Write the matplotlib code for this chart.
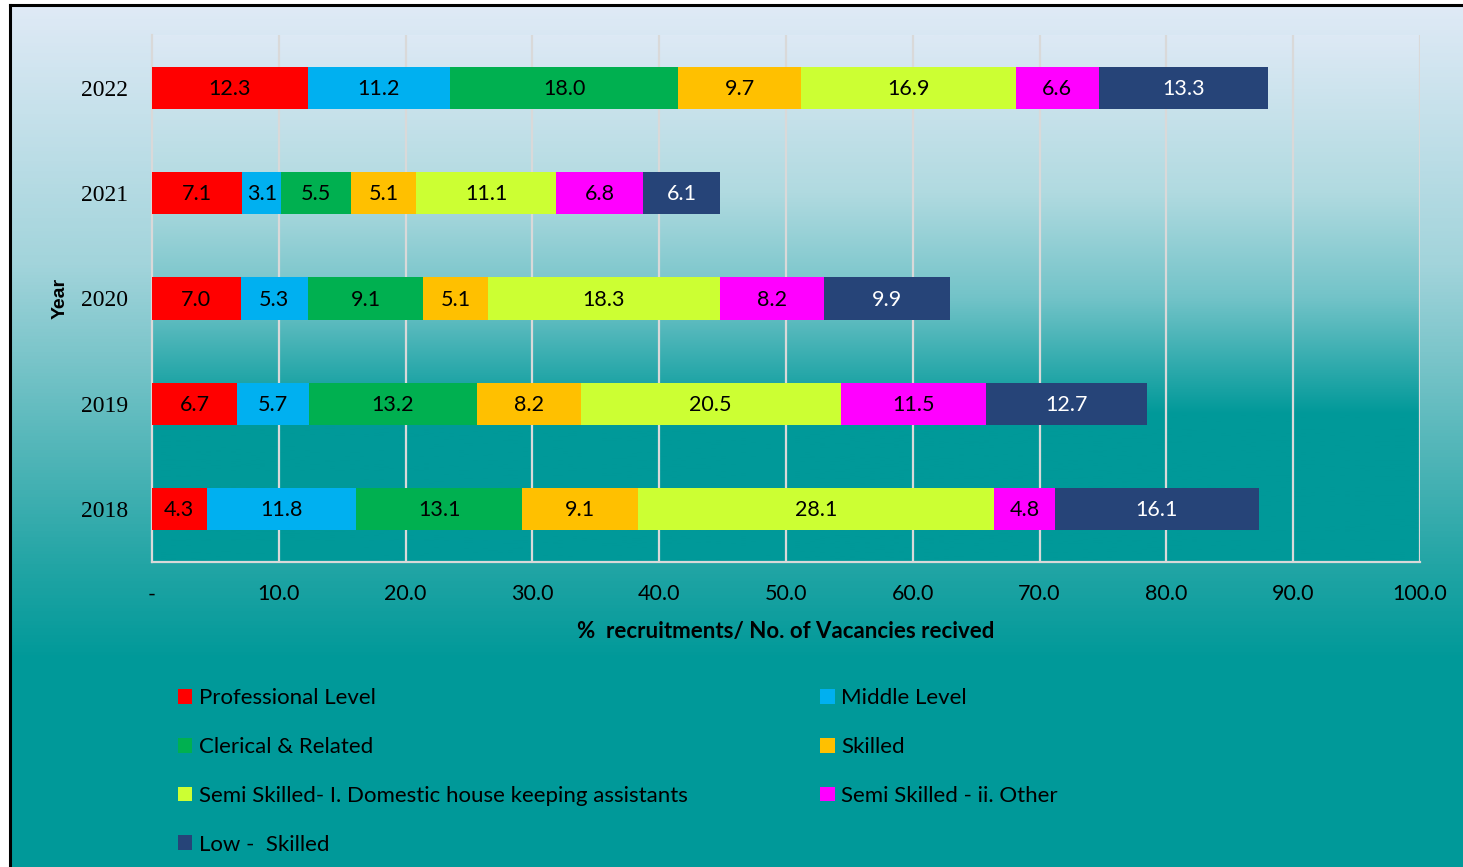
import numpy as np
import matplotlib
matplotlib.use("Agg")
import matplotlib.pyplot as plt
from matplotlib.colors import LinearSegmentedColormap
from matplotlib.patches import Patch
from matplotlib.lines import Line2D

# data
years = ["2018", "2019", "2020", "2021", "2022"]
categories = ["Professional Level", "Middle Level", "Clerical & Related", "Skilled",
              "Semi Skilled- I. Domestic house keeping assistants",
              "Semi Skilled - ii. Other", "Low -  Skilled"]
professional = [4.3, 6.7, 7.0, 7.1, 12.3]
middle = [11.8, 5.7, 5.3, 3.1, 11.2]
clerical = [13.1, 13.2, 9.1, 5.5, 18.0]
skilled = [9.1, 8.2, 5.1, 5.1, 9.7]
semi_domestic = [28.1, 20.5, 18.3, 11.1, 16.9]
semi_other = [4.8, 11.5, 8.2, 6.8, 6.6]
low_skilled = [16.1, 12.7, 9.9, 6.1, 13.3]
series = [professional, middle, clerical, skilled, semi_domestic, semi_other, low_skilled]

colors = ["#FF0000", "#00B0F0", "#00B050", "#FFC000", "#CCFF33", "#FF00FF", "#264478"]
label_colors = ["black"] * 6 + ["white"]
xticks = np.arange(0, 101, 10)
xticklabels = ["-"] + ["%.1f" % v for v in xticks[1:]]

W, H = 1463, 867
fig = plt.figure(figsize=(W / 100, H / 100), dpi=100)
fig.patch.set_facecolor("white")

# figure background gradient inside the frame
bg_cmap = LinearSegmentedColormap.from_list("bg", [
    (0.0, "#dfeaf6"), (0.3, "#a2d4db"), (0.5, "#58b8bb"),
    (0.65, "#22a5a5"), (0.76, "#009999"), (1.0, "#009999")])
bg = fig.add_axes([10 / W, 0, 1 - 10 / W, 1 - 6 / H], zorder=-10)
bg.imshow(np.linspace(0, 1, 256).reshape(-1, 1), cmap=bg_cmap, aspect="auto",
          extent=(0, 1, 0, 1), origin="upper")
bg.axis("off")
fig.add_artist(Line2D([10 / W, 10 / W], [0, 1 - 5 / H], color="black", lw=2.2))
fig.add_artist(Line2D([10 / W, 1], [1 - 5 / H, 1 - 5 / H], color="black", lw=2.2))

ax = fig.add_axes([152 / W, 1 - 562 / H, (1420 - 152) / W, (562 - 35) / H])
ax.set_facecolor("none")
ax.set_xlim(0, 100)
ax.set_ylim(-0.5, 4.5)

# plot area gradient
pa_cmap = LinearSegmentedColormap.from_list("pa", [
    (0.0, "#dde9f5"), (0.3, "#b0dae0"), (0.5, "#72c3c8"),
    (0.72, "#009999"), (1.0, "#009999")])
ax.imshow(np.linspace(0, 1, 256).reshape(-1, 1), cmap=pa_cmap, aspect="auto",
          extent=(0, 100, -0.5, 4.5), origin="upper", zorder=0)

for x in xticks[1:]:
    ax.axvline(x, color="#d9d9d9", lw=1.6, zorder=1)

y = np.arange(len(years))
left = np.zeros(len(years))
for vals, col, tcol, name in zip(series, colors, label_colors, categories):
    bars = ax.barh(y, vals, left=left, height=0.4, color=col, label=name, zorder=2)
    for b, v in zip(bars, vals):
        ax.text(b.get_x() + b.get_width() / 2, b.get_y() + b.get_height() / 2 - 0.01,
                "%.1f" % v, ha="center", va="center", color=tcol,
                fontsize=15.5, family="Lato", zorder=3)
    left += np.array(vals)

for s in ["top", "right"]:
    ax.spines[s].set_visible(False)
for s in ["left", "bottom"]:
    ax.spines[s].set_color("#d9d9d9")
    ax.spines[s].set_linewidth(1.6)
    ax.spines[s].set_zorder(1)

ax.set_yticks(y)
ax.set_yticklabels(years, family="Liberation Serif", fontsize=17)
ax.set_xticks(xticks)
ax.set_xticklabels(xticklabels, family="Lato", fontsize=15.5)
ax.tick_params(length=0)
ax.tick_params(axis="x", pad=16)
ax.tick_params(axis="y", pad=17)

ax.set_ylabel("Year", family="Liberation Sans", fontweight="bold", fontsize=14, labelpad=9)
ax.set_xlabel("%  recruitments/ No. of Vacancies recived", family="Lato",
              fontweight="bold", fontsize=16, labelpad=12)

handles = [Patch(facecolor=c, edgecolor="none") for c in colors]
order = [0, 2, 4, 6, 1, 3, 5]
leg = fig.legend([handles[i] for i in order], [categories[i] for i in order],
                 ncol=2, loc="upper left", bbox_to_anchor=(158 / W, 1 - 668 / H),
                 frameon=False, prop={"family": "Lato", "size": 16},
                 handlelength=0.65, handleheight=0.65, handletextpad=0.3,
                 labelspacing=1.3, columnspacing=5.95)

fig.savefig("out.png", dpi=100)
